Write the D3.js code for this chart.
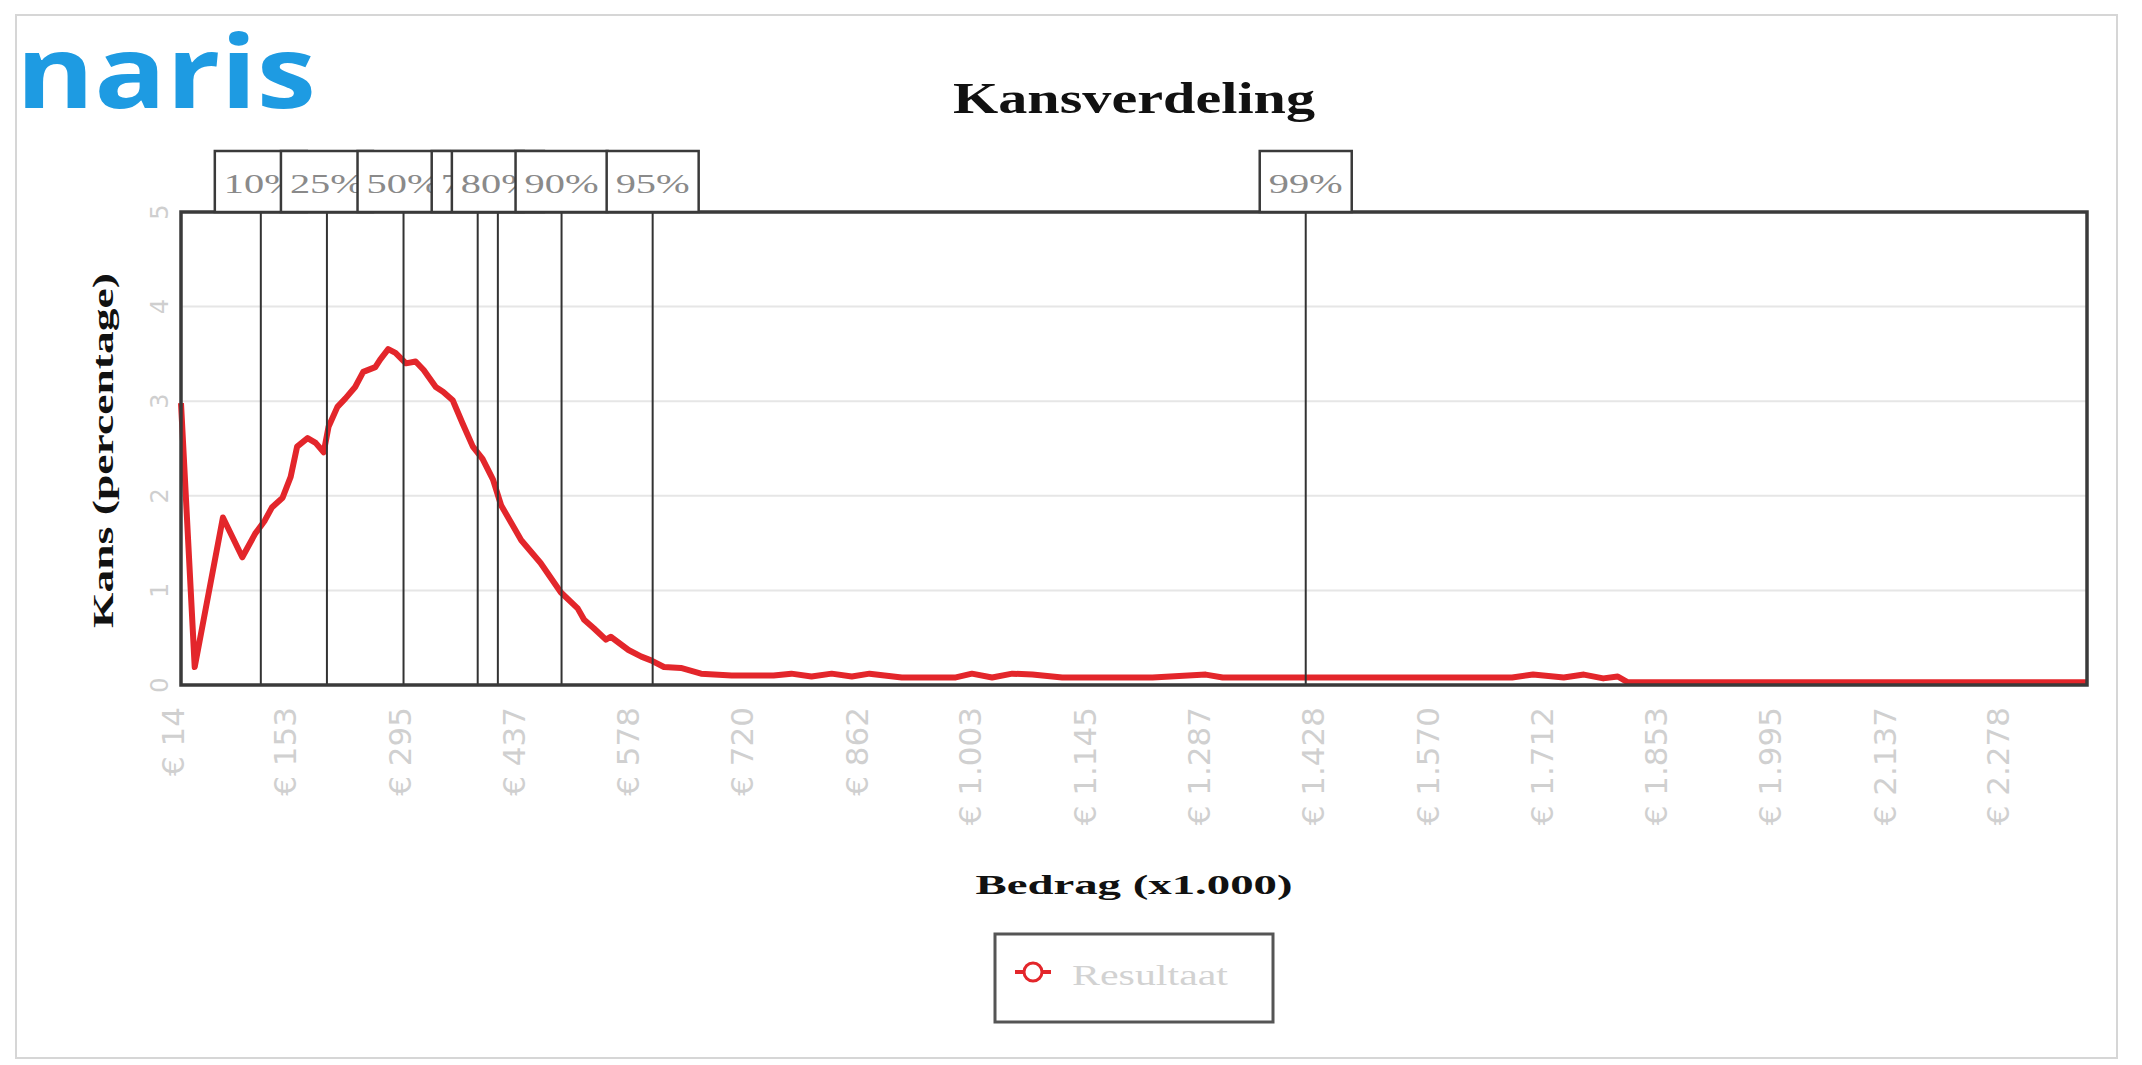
<!DOCTYPE html>
<html>
<head>
<meta charset="utf-8">
<script src="https://cdn.jsdelivr.net/npm/d3@7"></script>
<style>
  html, body { margin: 0; padding: 0; background: #fff; }
  svg { display: block; }
</style>
</head>
<body>
<svg id="chart" width="2142" height="1065"></svg>
<script>
// ---- data ----
const amounts = [14, 31, 66, 90, 106, 118, 127, 140, 150, 158, 171, 181, 191, 197, 208, 218, 230, 240, 255, 261,
  271, 280, 293, 305, 315, 330, 339, 351, 363, 376, 388, 401, 411, 436, 460, 485, 506, 514, 526, 541, 547, 569,
  585, 597, 613, 634, 659, 697, 749, 771, 796, 821, 846, 868, 908, 975, 995, 1020, 1045, 1070, 1107, 1219, 1285,
  1306, 1468, 1665, 1691, 1729, 1754, 1778, 1796, 1808, 2027, 2378];
const chance = [2.98, 0.19, 1.77, 1.35, 1.6, 1.74, 1.88, 1.98, 2.2, 2.52, 2.61, 2.56, 2.46, 2.73, 2.94, 3.03, 3.15,
  3.31, 3.36, 3.44, 3.55, 3.51, 3.40, 3.42, 3.33, 3.15, 3.10, 3.01, 2.77, 2.52, 2.39, 2.17, 1.9, 1.53, 1.29, 0.98,
  0.81, 0.69, 0.60, 0.48, 0.51, 0.37, 0.30, 0.26, 0.19, 0.18, 0.12, 0.10, 0.10, 0.12, 0.09, 0.12, 0.09, 0.12, 0.08,
  0.08, 0.12, 0.08, 0.12, 0.11, 0.08, 0.08, 0.11, 0.08, 0.08, 0.08, 0.11, 0.08, 0.11, 0.07, 0.09, 0.03, 0.03, 0.03];
const percentileLabels = ["10%", "25%", "50%", "75%", "80%", "90%", "95%", "99%"];
const percentileValues = [113, 195, 290, 382, 407, 486, 599, 1409];
const xTickValues = [14, 153, 295, 437, 578, 720, 862, 1003, 1145, 1287, 1428, 1570, 1712, 1853, 1995, 2137, 2278];
const yTickValues = [0, 1, 2, 3, 4, 5];
const seriesName = "Resultaat";
const titleText = "Kansverdeling";
const xTitle = "Bedrag (x1.000)";
const yTitle = "Kans (percentage)";

// ---- layout ----
const svg = d3.select("#chart");
const L = 181, R = 2087, T = 212, B = 685;
const x = d3.scaleLinear().domain([14, 2378]).range([L, R]);
const y = d3.scaleLinear().domain([0, 5]).range([B, T]);
const nl = d3.formatLocale({decimal: ",", thousands: ".", grouping: [3], currency: ["€ ", ""]});
const fmt = nl.format(",d");

const serif = "'Liberation Serif', 'Times New Roman', serif";
const sans = "'DejaVu Sans', sans-serif";

// outer frame
svg.append("rect").attr("x", 16).attr("y", 15).attr("width", 2101).attr("height", 1043)
  .attr("fill", "none").attr("stroke", "#d6d6d6").attr("stroke-width", 2);

// logo
svg.append("text").attr("x", 16).attr("y", 108).text("naris")
  .attr("font-family", "'Open Sans', Lato, sans-serif").attr("font-weight", 700)
  .attr("font-size", 100).attr("fill", "#1e9be2")
  .attr("textLength", 300).attr("lengthAdjust", "spacingAndGlyphs");

// title
svg.append("text").attr("x", (L + R) / 2).attr("y", 113).attr("text-anchor", "middle")
  .text(titleText).attr("font-family", serif).attr("font-weight", 700).attr("font-size", 44)
  .attr("fill", "#111").attr("textLength", 362).attr("lengthAdjust", "spacingAndGlyphs");

// gridlines
svg.append("g").selectAll("line").data(yTickValues.filter(d => d > 0 && d < 5)).join("line")
  .attr("x1", L).attr("x2", R).attr("y1", d => y(d)).attr("y2", d => y(d))
  .attr("stroke", "#e6e6e6").attr("stroke-width", 2);

// y tick labels (rotated)
svg.append("g").selectAll("text").data(yTickValues).join("text")
  .attr("transform", d => `translate(168,${y(d)}) rotate(-90)`)
  .attr("text-anchor", "middle").text(d => d)
  .attr("font-family", sans).attr("font-size", 24).attr("fill", "#cfcfcf");

// x tick labels (rotated)
svg.append("g").selectAll("text").data(xTickValues).join("text")
  .attr("transform", d => `translate(${x(d) + 3},707) rotate(-90)`)
  .attr("text-anchor", "end").text(d => "€ " + fmt(d))
  .attr("font-family", sans).attr("font-size", 31).attr("fill", "#d0d0d0");

// curve
const pts = amounts.map((a, i) => [a, chance[i]]);
const line = d3.line().x(d => x(d[0])).y(d => y(d[1]));
svg.append("path").datum(pts).attr("d", line).attr("fill", "none")
  .attr("stroke", "#e3262b").attr("stroke-width", 6).attr("stroke-linejoin", "round");

// percentile lines
svg.append("g").selectAll("line").data(percentileValues).join("line")
  .attr("x1", d => x(d)).attr("x2", d => x(d)).attr("y1", T).attr("y2", B)
  .attr("stroke", "#333").attr("stroke-width", 2);

// plot border
svg.append("rect").attr("x", L).attr("y", T).attr("width", R - L).attr("height", B - T)
  .attr("fill", "none").attr("stroke", "#3a3a3a").attr("stroke-width", 3.5);

// percentile boxes (later drawn over earlier)
const boxW = 92, boxTop = 151;
percentileValues.forEach((v, i) => {
  const g = svg.append("g");
  g.append("rect").attr("x", x(v) - boxW / 2).attr("y", boxTop).attr("width", boxW).attr("height", T - boxTop)
    .attr("fill", "#fff").attr("stroke", "#3a3a3a").attr("stroke-width", 2.5);
  g.append("text").attr("x", x(v)).attr("y", 193).attr("text-anchor", "middle")
    .text(percentileLabels[i]).attr("font-family", serif).attr("font-size", 28).attr("fill", "#8a8a8a")
    .attr("textLength", 74).attr("lengthAdjust", "spacingAndGlyphs");
});

// axis titles
svg.append("text").attr("x", (L + R) / 2).attr("y", 894).attr("text-anchor", "middle")
  .text(xTitle).attr("font-family", serif).attr("font-weight", 700).attr("font-size", 28)
  .attr("fill", "#111").attr("textLength", 317).attr("lengthAdjust", "spacingAndGlyphs");
svg.append("text").attr("transform", `translate(113,${(273 + 628) / 2}) rotate(-90)`)
  .attr("text-anchor", "middle").text(yTitle).attr("font-family", serif).attr("font-weight", 700)
  .attr("font-size", 29).attr("fill", "#111").attr("textLength", 355).attr("lengthAdjust", "spacingAndGlyphs");

// legend
const lg = svg.append("g");
lg.append("rect").attr("x", 995).attr("y", 934).attr("width", 278).attr("height", 88)
  .attr("fill", "#fff").attr("stroke", "#555").attr("stroke-width", 3);
lg.append("line").attr("x1", 1015).attr("x2", 1051).attr("y1", 972).attr("y2", 972)
  .attr("stroke", "#e3262b").attr("stroke-width", 4);
lg.append("circle").attr("cx", 1033).attr("cy", 972).attr("r", 9)
  .attr("fill", "#fff").attr("stroke", "#e3262b").attr("stroke-width", 3);
lg.append("text").attr("x", 1072).attr("y", 985).text(seriesName)
  .attr("font-family", serif).attr("font-size", 30).attr("fill", "#d2d2d2")
  .attr("textLength", 156).attr("lengthAdjust", "spacingAndGlyphs");
</script>
</body>
</html>
